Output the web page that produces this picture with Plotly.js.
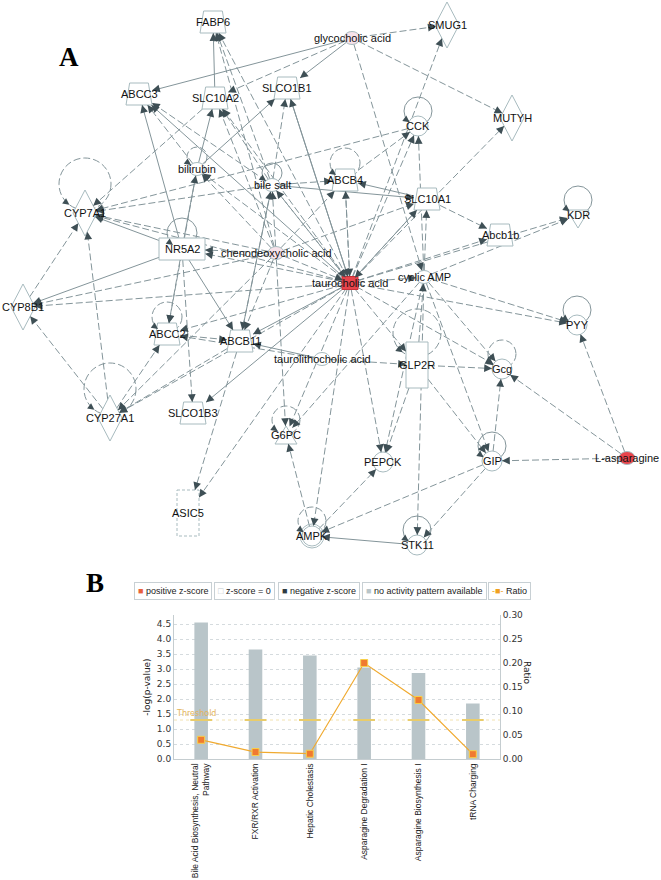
<!DOCTYPE html>
<html><head><meta charset="utf-8">
<script src="https://cdn.plot.ly/plotly-3.0.1.min.js"></script>
<style>html,body{margin:0;padding:0;background:#fff}#chart{width:661px;height:880px}</style>
</head><body><div id="chart"></div>
<script>
// ---------- Panel B data ----------
const pathways = ['Bile Acid Biosynthesis, Neutral<br>Pathway','FXR/RXR Activation','Hepatic Cholestasis','Asparagine Degradation I','Asparagine Biosynthesis I','tRNA Charging'];
const negLogP = [4.55, 3.65, 3.45, 3.05, 2.87, 1.85];
const ratio = [0.040, 0.0145, 0.011, 0.200, 0.123, 0.010];
const threshold = 1.3;
const leftTicks = [0, 0.5, 1.0, 1.5, 2.0, 2.5, 3.0, 3.5, 4.0, 4.5];
const rightTicks = [0, 0.05, 0.10, 0.15, 0.20, 0.25, 0.30];
const legendLabels = ['positive z-score', 'z-score = 0', 'negative z-score', 'no activity pattern available', 'Ratio'];

// ---------- Panel A data (network) ----------
const nodeNames = ['FABP6','glycocholic acid','SMUG1','ABCC3','SLC10A2','SLCO1B1','CCK','MUTYH','bilirubin','bile salt',
  'ABCB4','SLC10A1','KDR','Abcb1b','CYP7A1','NR5A2','chenodeoxycholic acid','taurocholic acid','cyclic AMP','CYP8B1',
  'ABCC2','ABCB11','taurolithocholic acid','GLP2R','PYY','Gcg','CYP27A1','SLCO1B3','G6PC','PEPCK',
  'GIP','L-asparagine','ASIC5','AMPK','STK11'];
const nodeX = [213,352,447,139,215,287,418,512,197,272, 345,427,578,500,85,182,276,350,424,23, 167,240,322,417,577,502,110,193,286,383, 492,627,188,312,417];
const nodeY = [22,38,25,94,98,88,126,118,169,185, 180,199,215,235,213,249,253,283,277,307, 334,341,359,365,325,369,418,413,435,462, 461,458,513,536,545];
const nodeType = ['transporter','chemical','enzyme','transporter','transporter','transporter','other','enzyme','chemical','chemical',
  'transporter','transporter','kinase','transporter','enzyme','receptor','chemical','chemical','chemical','enzyme',
  'transporter','transporter','chemical','gpcr','other','other','enzyme','transporter','phosphatase','other',
  'other','chemical','channel','other','other'];
const nodeExpr = ['','mild','','','','','','','','', '','','','','','','mild','up','','', '','','','','','','','','','', '','up','','',''];

const edgeFrom = ['glycocholic acid','glycocholic acid','glycocholic acid','glycocholic acid','glycocholic acid','glycocholic acid',
  'taurocholic acid','chenodeoxycholic acid','bile salt','SLC10A2',
  'bilirubin','bile salt','taurocholic acid','NR5A2','SLC10A2',
  'bilirubin','bile salt','chenodeoxycholic acid','taurocholic acid',
  'bilirubin','bile salt','taurocholic acid',
  'taurocholic acid','cyclic AMP','CCK','taurocholic acid','taurocholic acid','ABCB4',
  'taurocholic acid','chenodeoxycholic acid','SLC10A1','bile salt',
  'taurocholic acid','cyclic AMP','chenodeoxycholic acid','bile salt',
  'taurocholic acid','cyclic AMP','SLC10A1','taurocholic acid',
  'NR5A2','chenodeoxycholic acid','taurocholic acid','bile salt','CYP27A1',
  'NR5A2','taurocholic acid','chenodeoxycholic acid','CYP27A1','CYP8B1',
  'chenodeoxycholic acid','taurocholic acid','NR5A2','chenodeoxycholic acid','taurocholic acid',
  'taurocholic acid','chenodeoxycholic acid','ABCB11',
  'NR5A2','taurocholic acid','bilirubin','CYP27A1',
  'NR5A2','chenodeoxycholic acid','taurocholic acid','bile salt','taurolithocholic acid','ABCB11','ABCC2',
  'ABCB11','taurocholic acid','taurocholic acid','NR5A2',
  'taurolithocholic acid','GLP2R',
  'taurocholic acid','chenodeoxycholic acid','cyclic AMP','AMPK',
  'taurocholic acid','GIP','STK11','AMPK','cyclic AMP','taurocholic acid','GLP2R',
  'cyclic AMP','GIP','GLP2R','L-asparagine','GIP','L-asparagine','cyclic AMP','taurocholic acid',
  'L-asparagine','cyclic AMP','taurocholic acid','taurocholic acid','GLP2R','taurocholic acid',
  'chenodeoxycholic acid','bile salt','SLC10A1','SLCO1B1','ABCB4','taurolithocholic acid',
  'taurocholic acid','chenodeoxycholic acid','cyclic AMP'];
const edgeTo = ['ABCC3','SLCO1B1','SLC10A2','SMUG1','MUTYH','cyclic AMP',
  'FABP6','FABP6','FABP6','FABP6',
  'ABCC3','ABCC3','ABCC3','ABCC3','CYP7A1',
  'SLC10A2','SLC10A2','SLC10A2','SLC10A2',
  'SLCO1B1','SLCO1B1','SLCO1B1',
  'CCK','CCK','CYP7A1','SMUG1','MUTYH','CCK',
  'ABCB4','ABCB4','ABCB4','ABCB4',
  'SLC10A1','SLC10A1','SLC10A1','SLC10A1',
  'KDR','KDR','Abcb1b','Abcb1b',
  'CYP7A1','CYP7A1','CYP7A1','CYP7A1','CYP7A1',
  'CYP8B1','CYP8B1','CYP8B1','CYP8B1','CYP7A1',
  'NR5A2','NR5A2','bilirubin','bilirubin','bilirubin',
  'bile salt','bile salt','bile salt',
  'ABCC2','ABCC2','ABCC2','ABCC2',
  'ABCB11','ABCB11','ABCB11','ABCB11','ABCB11','CYP27A1','ABCB11',
  'ASIC5','ASIC5','SLCO1B3','SLCO1B3',
  'GLP2R','Gcg',
  'G6PC','G6PC','G6PC','G6PC',
  'AMPK','AMPK','AMPK','PEPCK','PEPCK','PEPCK','PEPCK',
  'STK11','STK11','GIP','GIP','Gcg','Gcg','Gcg','Gcg',
  'PYY','PYY','PYY','GLP2R','cyclic AMP','cyclic AMP',
  'taurocholic acid','taurocholic acid','taurocholic acid','taurocholic acid','taurocholic acid','ABCC2',
  'CYP27A1','CYP27A1','GIP'];
const edgeKind = ['solid','solid','dash','dash','dash','dash',
  'dash','dash','dash','solid',
  'dash','dash','solid','solid','dash',
  'solid','dash','dash','dash',
  'solid','dash','solid',
  'dash','dash','dash','dash','dash','dash',
  'dash','dash','solid','dash',
  'dash','dash','dash','solid',
  'dash','dash','dash','dash',
  'solid','dash','dash','dash','dash',
  'solid','dash','dash','dash','dash',
  'dash','dash','solid','dash','dash',
  'dash','dash','solid',
  'dash','dash','dash','dash',
  'solid','dash','solid','dash','solid','dash','dash',
  'dash','dash','solid','dash',
  'dash','dash',
  'dash','dash','dash','dash',
  'dash','dash','solid','dash','dash','dash','dash',
  'dash','dash','dash','dash','dash','dash','dash','dash',
  'dash','dash','dash','dash','dash','dash',
  'dash','dash','solid','solid','dash','dash',
  'dash','dash','dash'];
const loopNodes = ['CYP7A1','CCK','KDR','PYY','GIP','Gcg','STK11','AMPK','G6PC','ABCC2','NR5A2','bilirubin','bile salt','ABCB4','CYP27A1','GLP2R'];
const loopKind  = ['dash','solid','solid','solid','solid','dash','solid','dash','dash','dash','solid','dash','solid','dash','dash','dash'];

// ---------- styles ----------
const HALF = {transporter:[13,11], enzyme:[12,23], other:[10,10], chemical:[8,6.5], kinase:[11,9], phosphatase:[11,9],
  receptor:[23,11], gpcr:[11,23], channel:[11,23]};
const LOOP = {enzyme:[26,29], gpcr:[24,32], chemical:[10,12], transporter:[15,17], receptor:[15,16]};
const EDGE_COL = '#84959a', HEAD_COL = '#3e4f55', NODE_LINE = '#a8bbbf';
const EDGE_DASH = '7px,3px';

const idx = {}; nodeNames.forEach((n,i)=>idx[n]=i);

function boundary(i, ux, uy){ // distance from centre to node boundary along unit (ux,uy)
  const t = nodeType[i], [w,h] = HALF[t];
  const ax = Math.abs(ux)+1e-9, ay = Math.abs(uy)+1e-9;
  if (t==='enzyme') return 1/(ax/w + ay/h);
  if (t==='receptor'||t==='gpcr'||t==='channel'||t==='transporter') return Math.min(w/ax, h/ay);
  return 1/Math.sqrt((ax/w)**2 + (ay/h)**2);
}

const shapes = [], annotations = [];
// loops (under nodes)
loopNodes.forEach((n,k)=>{
  const i = idx[n], t = nodeType[i];
  const [r,off] = LOOP[t] || [14,15];
  const cx = nodeX[i], cy = nodeY[i]-off;
  shapes.push({type:'circle', xref:'x2', yref:'y2', x0:cx-r, x1:cx+r, y0:cy-r, y1:cy+r,
    line:{color:EDGE_COL, width:1, dash: loopKind[k]==='dash' ? EDGE_DASH : 'solid'}, fillcolor:'rgba(0,0,0,0)'});
  const tx = cx-0.6*r, ty = cy+0.8*r;
  annotations.push({xref:'x2', yref:'y2', axref:'x2', ayref:'y2', x:tx, y:ty, ax:tx-5.6, ay:ty-4.2, text:'',
    showarrow:true, arrowhead:2, arrowsize:1.2, arrowwidth:1.1, arrowcolor:HEAD_COL, standoff:0});
});
// nodes
nodeNames.forEach((n,i)=>{
  const t = nodeType[i], [w,h] = HALF[t], x = nodeX[i], y = nodeY[i];
  let fill = '#ffffff';
  if (nodeExpr[i]==='up') fill = '#e8444c';
  if (nodeExpr[i]==='mild') fill = '#f7e2ea';
  const base = {xref:'x2', yref:'y2', line:{color:NODE_LINE, width:1}, fillcolor:fill};
  let p = null;
  if (t==='transporter') p = `M${x-0.72*w},${y-h} L${x+0.72*w},${y-h} L${x+w},${y+h} L${x-w},${y+h} Z`;
  else if (t==='enzyme') p = `M${x},${y-h} L${x+w},${y} L${x},${y+h} L${x-w},${y} Z`;
  else if (t==='kinase') p = `M${x-w},${y-h+4} L${x+w},${y-h+4} L${x},${y+h+4} Z`;
  else if (t==='phosphatase') p = `M${x},${y-h} L${x+w},${y+h} L${x-w},${y+h} Z`;
  if (p) shapes.push(Object.assign(base,{type:'path', path:p}));
  else if (t==='receptor'||t==='gpcr'||t==='channel') {
    if (t==='channel') base.line.dash = '3px,2px';
    shapes.push(Object.assign(base,{type:'rect', x0:x-w, x1:x+w, y0:y-h, y1:y+h}));
  } else if (t==='chemical' && nodeExpr[i]==='up' && n==='taurocholic acid') {
    shapes.push(Object.assign(base,{type:'rect', x0:x-w, x1:x+w, y0:y-h, y1:y+h, line:{color:'#c83038',width:1}}));
  } else {
    shapes.push(Object.assign(base,{type:'circle', x0:x-w, x1:x+w, y0:y-h, y1:y+h}));
    if (n==='AMPK') shapes.push({type:'circle', xref:'x2', yref:'y2', x0:x-w-2, x1:x+w+2, y0:y-h-2, y1:y+h+2,
      line:{color:NODE_LINE, width:1}, fillcolor:'rgba(0,0,0,0)'});
  }
});
// edges as traces + arrowheads
const dashX=[], dashY=[], solX=[], solY=[];
edgeFrom.forEach((s,k)=>{
  const a = idx[s], b = idx[edgeTo[k]];
  const x0=nodeX[a], y0=nodeY[a], x1=nodeX[b], y1=nodeY[b];
  const L = Math.hypot(x1-x0,y1-y0), ux=(x1-x0)/L, uy=(y1-y0)/L;
  const dB = boundary(b, ux, uy), dA = boundary(a, ux, uy);
  const tipX = x1-ux*dB, tipY = y1-uy*dB;
  if (edgeKind[k]==='dash'){ dashX.push(x0+ux*dA, tipX, null); dashY.push(y0+uy*dA, tipY, null); }
  else { solX.push(x0+ux*dA, tipX, null); solY.push(y0+uy*dA, tipY, null); }
  annotations.push({xref:'x2', yref:'y2', axref:'x2', ayref:'y2', x:tipX, y:tipY, ax:tipX-ux*7, ay:tipY-uy*7, text:'',
    showarrow:true, arrowhead:2, arrowsize:1.3, arrowwidth:1.2, arrowcolor:HEAD_COL, standoff:0});
});
// node labels
nodeNames.forEach((n,i)=>{
  annotations.push({xref:'x2', yref:'y2', x:nodeX[i], y:nodeY[i], text:n, showarrow:false,
    font:{family:'Liberation Sans, Arial, sans-serif', size:11, color:'#111'}});
});

// ---------- Panel B extras ----------
const cats = pathways.map((_,i)=>i);
const thrX=[], thrY=[];
cats.forEach(i=>{ thrX.push(i-0.2, i+0.2, null); thrY.push(threshold, threshold, null); });
const legendColors = ['#e8603c','#c0c8cc','#2e3b42','#b9c5c9','#f0a020'];
const legendGlyph = ['■','□','■','■','-■-'];
const legendLeft = [134, 214, 278, 362, 488];
legendLabels.forEach((lab,k)=>{
  annotations.push({xref:'paper', yref:'paper', x:legendLeft[k]/661, y:1-600/880, xanchor:'left', showarrow:false,
    text:`<span style="color:${legendColors[k]}">${legendGlyph[k]}</span> ${lab}`,
    font:{family:'Liberation Sans, Arial, sans-serif', size:9, color:'#222'}, bordercolor:'#c8d0d4', borderwidth:1, borderpad:3, bgcolor:'#fff'});
});
annotations.push({xref:'x', yref:'y', x:-0.5, y:threshold, xanchor:'left', yanchor:'bottom', showarrow:false, text:'Threshold',
  font:{family:'DejaVu Sans, sans-serif', size:8, color:'#e4b45a'}});
annotations.push({xref:'paper', yref:'paper', x:534/661, y:1-687/880, showarrow:false, text:'Ratio', textangle:90,
  font:{family:'DejaVu Sans, sans-serif', size:9, color:'#222'}});
annotations.push({xref:'paper', yref:'paper', x:57/661, y:1-40/880, showarrow:false, text:'<b>A</b>',
  font:{family:'Liberation Serif, serif', size:27, color:'#000'}});
annotations.push({xref:'paper', yref:'paper', x:84/661, y:1-600/880, showarrow:false, text:'<b>B</b>',
  font:{family:'Liberation Serif, serif', size:27, color:'#000'}});

const tickFont = {family:'DejaVu Sans, sans-serif', size:9, color:'#333'};
const data = [
  {type:'scatter', mode:'lines', x:dashX, y:dashY, xaxis:'x2', yaxis:'y2', line:{color:EDGE_COL, width:1, dash:EDGE_DASH}, hoverinfo:'skip'},
  {type:'scatter', mode:'lines', x:solX, y:solY, xaxis:'x2', yaxis:'y2', line:{color:EDGE_COL, width:1}, hoverinfo:'skip'},
  {type:'bar', x:cats, y:negLogP, width:0.25, marker:{color:'#b9c5c9'}, xaxis:'x', yaxis:'y'},
  {type:'scatter', mode:'lines', x:[-0.5,5.5], y:[threshold,threshold], line:{color:'#f2e2b0', width:1, dash:'dot'}, xaxis:'x', yaxis:'y'},
  {type:'scatter', mode:'lines', x:thrX, y:thrY, line:{color:'#e9cc6a', width:2}, xaxis:'x', yaxis:'y'},
  {type:'scatter', mode:'lines+markers', x:cats, y:ratio, xaxis:'x', yaxis:'y3',
    line:{color:'#f0aa30', width:1.2}, marker:{symbol:'square', size:7, color:'#f07a30', line:{color:'#f8d048', width:1}}}
];
const layout = {
  width:661, height:880, margin:{l:0,r:0,t:0,b:0}, showlegend:false, paper_bgcolor:'#fff', plot_bgcolor:'rgba(0,0,0,0)',
  xaxis:{domain:[174/661, 500/661], anchor:'y', range:[-0.5,5.5], tickvals:cats, ticktext:pathways, tickangle:-90,
    tickfont:{family:'Liberation Sans, Arial, sans-serif', size:8.5, color:'#222'}, showline:true, linecolor:'#c5cdd0',
    showgrid:false, zeroline:false, ticks:'', fixedrange:true},
  yaxis:{domain:[1-759/880, 1-615/880], anchor:'x', range:[0,4.8], tickvals:leftTicks, tickformat:'.1f', tickfont:tickFont,
    showline:true, linecolor:'#c5cdd0', showgrid:true, gridcolor:'#d5dbde', griddash:'dot', zeroline:false,
    title:{text:'-log(p-value)', font:{family:'DejaVu Sans, sans-serif', size:9, color:'#222'}, standoff:4}},
  yaxis3:{overlaying:'y', side:'right', anchor:'x', range:[0,0.3], tickvals:rightTicks, tickformat:'.2f', tickfont:tickFont,
    showline:true, linecolor:'#c5cdd0', showgrid:false, zeroline:false},
  xaxis2:{domain:[0,1], anchor:'y2', range:[0,661], visible:false, fixedrange:true},
  yaxis2:{domain:[0,1], anchor:'x2', range:[880,0], visible:false, fixedrange:true},
  shapes:shapes, annotations:annotations
};
Plotly.newPlot('chart', data, layout, {staticPlot:true});
</script></body></html>
